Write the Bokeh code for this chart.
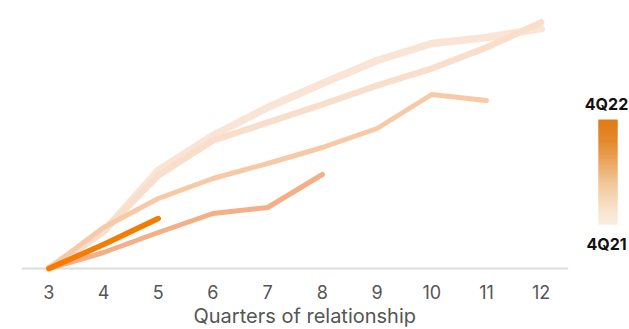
from bokeh.plotting import figure
from bokeh.models import Range1d, Span, FixedTicker, Title
from bokeh.layouts import row
from bokeh.embed import file_html
from bokeh.resources import INLINE
from bokeh.core.properties import value

# ---- data ----
quarters = [3, 4, 5, 6, 7, 8, 9, 10, 11, 12]
cohorts = ["4Q21", "1Q22", "2Q22", "3Q22", "4Q22"]
y_4q21 = [0, 37, 98, 133, 161, 185, 208, 225, 231, 240]
y_1q22 = [0, 37, 93, 128, 146, 164, 183, 200, 221, 246]
y_2q22 = [0, 41, 70, 90, 105, 121, 140, 174, 168]
y_3q22 = [0, 16, 36, 55, 61, 94]
y_4q22 = [0, 24, 50]
tick_labels = [str(q) for q in quarters]
x_title = "Quarters of relationship"
scale_labels = ["4Q22", "4Q21"]

series = [y_4q21, y_1q22, y_2q22, y_3q22, y_4q22]
colors = ["#FAE4D5", "#F9DECB", "#F8C9A7", "#F4AF86", "#F57C00"]
widths = [7.5, 6.5, 5, 5, 5.5]

FONT = "Inter"
BB = 56          # bottom border
FH = 329 - BB    # frame height (px)

p = figure(width=580, height=329, x_range=Range1d(2.5, 12.5), y_range=Range1d(268 - FH, 268),
           output_backend="svg", toolbar_location=None, y_axis_location=None,
           min_border_left=21, min_border_right=12, min_border_top=0, min_border_bottom=BB)
p.grid.visible = False
p.outline_line_color = None
p.background_fill_color = "white"
p.border_fill_color = "white"

base = Span(location=0, dimension="width", line_color="#dddddd", line_width=2, level="underlay")
p.add_layout(base)

for ys, c, w in zip(series, colors, widths):
    p.line(quarters[:len(ys)], ys, line_color=c, line_width=w, line_cap="round", line_join="round")

ax = p.xaxis[0]
ax.ticker = FixedTicker(ticks=quarters)
ax.major_label_overrides = {q: t for q, t in zip(quarters, tick_labels)}
ax.axis_line_color = None
ax.major_tick_line_color = None
ax.minor_tick_line_color = None
ax.major_label_text_font = FONT
ax.major_label_text_font_size = "18px"
ax.major_label_text_color = "#555555"
ax.major_label_standoff = 5

t = Title(text=x_title, align="left", offset=172, standoff=0,
          text_font=FONT, text_font_size="20px", text_font_style="normal", text_color="#555555")
p.add_layout(t, "below")

# ---- colour scale ----
cb = figure(width=49, height=329, x_range=Range1d(0, 49), y_range=Range1d(FH, 0),
            output_backend="svg", toolbar_location=None, x_axis_location=None, y_axis_location=None,
            min_border_left=0, min_border_right=0, min_border_top=0, min_border_bottom=BB)
cb.grid.visible = False
cb.outline_line_color = None

stops = [(0.0, (0xE0, 0x7B, 0x17)), (0.2, (0xE4, 0x89, 0x2C)), (0.4, (0xEB, 0xA5, 0x5E)),
         (0.6, (0xF1, 0xC5, 0x95)), (0.8, (0xF6, 0xDD, 0xC0)), (1.0, (0xFA, 0xEE, 0xE1))]

def grad(tv):
    for (t0, c0), (t1, c1) in zip(stops[:-1], stops[1:]):
        if t0 <= tv <= t1:
            f = (tv - t0) / (t1 - t0)
            return "#%02x%02x%02x" % tuple(int(round(a + (b - a) * f)) for a, b in zip(c0, c1))
    return "#%02x%02x%02x" % stops[-1][1]

top, bot, n = 119, 224, 105
h = (bot - top) / n
tops = [top + i * h for i in range(n)]
bots = [min(tt + h + 1.0, bot) for tt in tops]
cols = [grad(i / (n - 1)) for i in range(n)]
cb.quad(left=18, right=37, top=tops, bottom=bots, fill_color=cols, line_color=None)

cb.text(x=[26, 26], y=[103, 243], text=scale_labels, text_align="center", text_baseline="middle",
        text_font=value(FONT), text_font_size="16px", text_font_style="bold", text_color="#111111")

layout = row(p, cb)
open("out.html", "w").write(file_html(layout, INLINE))
